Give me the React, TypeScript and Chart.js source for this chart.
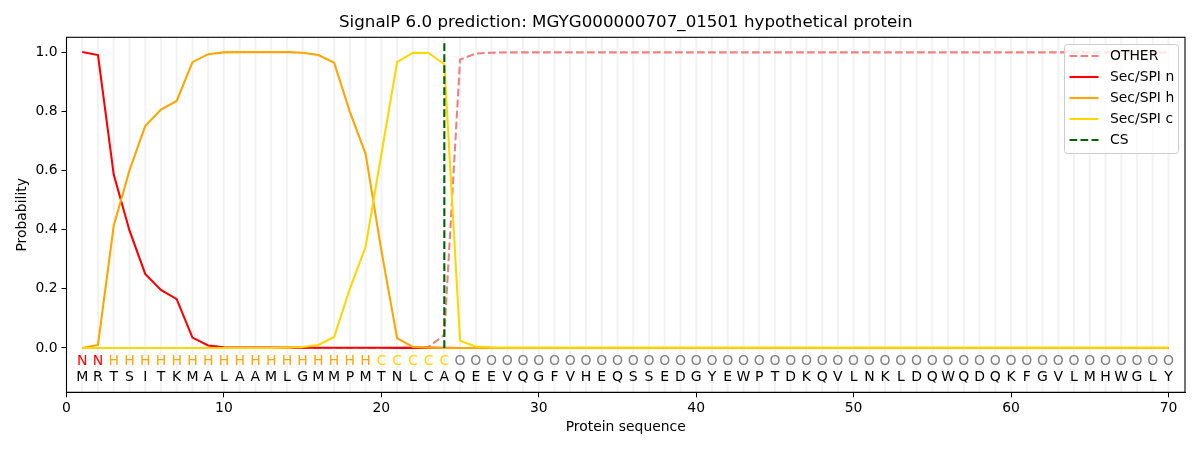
import React, { useEffect, useRef } from "react";
import { Chart, registerables } from "chart.js";

Chart.register(...registerables);

const sequence = "MRTSITKMALAAMLGMMPMTNLCAQEEVQGFVHEQSSEDGYEWPTDKQVLNKLDQWQDQKFGVLMHWGLY".split("");
const regionLabels = (
  "NN" +
  "HHHHHHHHHHHHHHHHH" +
  "CCCCC" +
  "OOOOOOOOOOOOOOOOOOOOOOOOOOOOOOOOOOOOOOOOOOOOOO"
).split("");

const otherProb = [
  0, 0, 0, 0, 0, 0, 0, 0, 0, 0,
  0, 0, 0, 0, 0, 0, 0, 0, 0, 0,
  0, 0.001, 0.004, 0.044, 0.975, 0.995, 0.998, 0.999, 0.999, 0.999,
  0.999, 0.999, 0.999, 0.999, 0.999, 0.999, 0.999, 0.999, 0.999, 0.999,
  0.999, 0.999, 0.999, 0.999, 0.999, 0.999, 0.999, 0.999, 0.999, 0.999,
  0.999, 0.999, 0.999, 0.999, 0.999, 0.999, 0.999, 0.999, 0.999, 0.999,
  0.999, 0.999, 0.999, 0.999, 0.999, 0.999, 0.999, 0.999, 0.999, 0.999,
];
const secSpiN = [
  1.0, 0.99, 0.586, 0.397, 0.25, 0.196, 0.165, 0.035, 0.008, 0.002,
  0.001, 0.001, 0.001, 0.001, 0.001, 0.0005, 0.0005, 0.0005, 0.0005, 0.0005,
  0.0003, 0.0003, 0.0002, 0.0001, 0, 0, 0, 0, 0, 0,
  0, 0, 0, 0, 0, 0, 0, 0, 0, 0,
  0, 0, 0, 0, 0, 0, 0, 0, 0, 0,
  0, 0, 0, 0, 0, 0, 0, 0, 0, 0,
  0, 0, 0, 0, 0, 0, 0, 0, 0, 0,
];
const secSpiH = [
  0, 0.01, 0.413, 0.6, 0.75, 0.806, 0.835, 0.966, 0.993, 0.999,
  1.0, 1.0, 1.0, 1.0, 0.998, 0.99, 0.964, 0.798, 0.656, 0.33,
  0.033, 0.003, 0.001, 0, 0, 0, 0, 0, 0, 0,
  0, 0, 0, 0, 0, 0, 0, 0, 0, 0,
  0, 0, 0, 0, 0, 0, 0, 0, 0, 0,
  0, 0, 0, 0, 0, 0, 0, 0, 0, 0,
  0, 0, 0, 0, 0, 0, 0, 0, 0, 0,
];
const secSpiC = [
  0, 0, 0, 0, 0, 0, 0, 0, 0, 0,
  0, 0, 0, 0.001, 0.003, 0.01, 0.037, 0.2, 0.342, 0.654,
  0.966, 0.998, 0.997, 0.959, 0.024, 0.005, 0.002, 0.001, 0.001, 0.001,
  0.001, 0.001, 0.001, 0.001, 0.001, 0.001, 0.001, 0.001, 0.001, 0.001,
  0.001, 0.001, 0.001, 0.001, 0.001, 0.001, 0.001, 0.001, 0.001, 0.001,
  0.001, 0.001, 0.001, 0.001, 0.001, 0.001, 0.001, 0.001, 0.001, 0.001,
  0.001, 0.001, 0.001, 0.001, 0.001, 0.001, 0.001, 0.001, 0.001, 0.001,
];
const csPosition = 24;
const csTop = 1.035;

const xTicks = [0, 10, 20, 30, 40, 50, 60, 70];
const yTicks = [0, 0.2, 0.4, 0.6, 0.8, 1.0];

const titleText = "SignalP 6.0 prediction: MGYG000000707_01501 hypothetical protein";
const xLabel = "Protein sequence";
const yLabel = "Probability";

const labelColors: Record<string, string> = {
  N: "#ff0000",
  H: "#ffa500",
  C: "#ffd700",
  O: "#808080",
};

const FONT = "'DejaVu Sans', sans-serif";

const legendItems = [
  { text: "OTHER", color: "#f08080", dash: [7.7, 3.3] },
  { text: "Sec/SPI n", color: "#ff0000", dash: [] as number[] },
  { text: "Sec/SPI h", color: "#ffa500", dash: [] as number[] },
  { text: "Sec/SPI c", color: "#ffd700", dash: [] as number[] },
  { text: "CS", color: "#006400", dash: [7.7, 3.3] },
];

const toPoints = (vals: number[]) => vals.map((v, i) => ({ x: i + 1, y: v }));

const overlayPlugin = {
  id: "overlay",
  beforeDatasetsDraw(chart: any) {
    const { ctx, chartArea: a, scales } = chart;
    const x = scales.x;
    ctx.save();
    ctx.strokeStyle = "rgba(128,128,128,0.1)";
    ctx.lineWidth = 2;
    sequence.forEach((_, i) => {
      const px = x.getPixelForValue(i + 1);
      ctx.beginPath();
      ctx.moveTo(px, a.top);
      ctx.lineTo(px, a.bottom);
      ctx.stroke();
    });
    ctx.restore();
  },
  afterDatasetsDraw(chart: any) {
    const { ctx, chartArea: a, scales } = chart;
    const x = scales.x;
    const y = scales.y;
    ctx.save();
    // sequence letters and region labels
    ctx.textAlign = "center";
    ctx.textBaseline = "middle";
    ctx.font = `14px ${FONT}`;
    sequence.forEach((aa, i) => {
      const px = x.getPixelForValue(i + 1);
      const lab = regionLabels[i];
      ctx.fillStyle = labelColors[lab];
      ctx.fillText(lab, px, y.getPixelForValue(-0.047));
      ctx.fillStyle = "#000000";
      ctx.fillText(aa, px, y.getPixelForValue(-0.1));
    });

    // frame
    ctx.strokeStyle = "#000000";
    ctx.lineWidth = 1.1;
    ctx.strokeRect(a.left, a.top, a.right - a.left, a.bottom - a.top);

    // legend
    const lx = 1064.5, ly = 44.5, lw = 114, lh = 109, r = 3;
    ctx.beginPath();
    ctx.moveTo(lx + r, ly);
    ctx.lineTo(lx + lw - r, ly);
    ctx.arcTo(lx + lw, ly, lx + lw, ly + r, r);
    ctx.lineTo(lx + lw, ly + lh - r);
    ctx.arcTo(lx + lw, ly + lh, lx + lw - r, ly + lh, r);
    ctx.lineTo(lx + r, ly + lh);
    ctx.arcTo(lx, ly + lh, lx, ly + lh - r, r);
    ctx.lineTo(lx, ly + r);
    ctx.arcTo(lx, ly, lx + r, ly, r);
    ctx.closePath();
    ctx.fillStyle = "rgba(255,255,255,0.8)";
    ctx.fill();
    ctx.strokeStyle = "#cccccc";
    ctx.lineWidth = 1;
    ctx.stroke();
    const rowsY = [56, 77, 98, 119, 140];
    ctx.textAlign = "left";
    ctx.font = `13.9px ${FONT}`;
    legendItems.forEach((it, i) => {
      ctx.beginPath();
      ctx.setLineDash(it.dash);
      ctx.strokeStyle = it.color;
      ctx.lineWidth = 2.1;
      ctx.moveTo(1069.5, rowsY[i]);
      ctx.lineTo(1098.5, rowsY[i]);
      ctx.stroke();
      ctx.setLineDash([]);
      ctx.fillStyle = "#000000";
      ctx.fillText(it.text, 1110, rowsY[i]);
    });

    // title
    ctx.textAlign = "center";
    ctx.fillStyle = "#000000";
    ctx.font = `16.7px ${FONT}`;
    ctx.fillText(titleText, (a.left + a.right) / 2, 23);

    // axis labels
    ctx.font = `13.9px ${FONT}`;
    ctx.fillText(xLabel, (a.left + a.right) / 2, 427);
    ctx.translate(22, (a.top + a.bottom) / 2);
    ctx.rotate(-Math.PI / 2);
    ctx.fillText(yLabel, 0, 0);
    ctx.restore();
  },
};

export default function App() {
  const canvasRef = useRef<HTMLCanvasElement | null>(null);

  useEffect(() => {
    const canvas = canvasRef.current;
    if (!canvas) return;
    const lineBase = {
      pointRadius: 0,
      borderWidth: 2.1,
      tension: 0,
      fill: false,
    };
    const chart = new Chart(canvas, {
      type: "line",
      data: {
        datasets: [
          { ...lineBase, label: "OTHER", data: toPoints(otherProb), borderColor: "#f08080", borderDash: [7.7, 3.3], order: 5 },
          { ...lineBase, label: "Sec/SPI n", data: toPoints(secSpiN), borderColor: "#ff0000", order: 4 },
          { ...lineBase, label: "Sec/SPI h", data: toPoints(secSpiH), borderColor: "#ffa500", order: 3 },
          { ...lineBase, label: "Sec/SPI c", data: toPoints(secSpiC), borderColor: "#ffd700", order: 2 },
          {
            ...lineBase,
            label: "CS",
            data: [
              { x: csPosition, y: 0 },
              { x: csPosition, y: csTop },
            ],
            borderColor: "#006400",
            borderDash: [7.7, 3.3],
            order: 1,
          },
        ],
      },
      options: {
        responsive: false,
        animation: false,
        devicePixelRatio: 1,
        layout: { padding: { top: 37.3, right: 15, left: 0, bottom: 0 } },
        plugins: {
          legend: { display: false },
          title: { display: false },
          tooltip: { enabled: false },
        },
        scales: {
          x: {
            type: "linear",
            min: 0,
            max: 71.05,
            afterBuildTicks: (s: any) => {
              s.ticks = xTicks.map((v) => ({ value: v }));
            },
            afterFit: (s: any) => {
              s.height = 57.7;
            },
            grid: { drawOnChartArea: false, drawTicks: true, tickLength: 5, color: "#000000" },
            border: { display: true, color: "#000000" },
            ticks: {
              color: "#000000",
              font: { family: FONT, size: 13.9 },
              padding: 3,
              maxRotation: 0,
              callback: (v: any) => String(v),
            },
          },
          y: {
            type: "linear",
            min: -0.15,
            max: 1.05,
            afterBuildTicks: (s: any) => {
              s.ticks = yTicks.map((v) => ({ value: v }));
            },
            afterFit: (s: any) => {
              s.width = 66.5;
            },
            grid: { drawOnChartArea: false, drawTicks: true, tickLength: 5, color: "#000000" },
            border: { display: true, color: "#000000" },
            ticks: {
              color: "#000000",
              font: { family: FONT, size: 13.9 },
              padding: 4,
              callback: (v: any) => Number(v).toFixed(1),
            },
          },
        },
      },
      plugins: [overlayPlugin],
    });
    return () => chart.destroy();
  }, []);

  return (
    <div style={{ position: "absolute", left: 0, top: 0, width: 1200, height: 450, background: "#ffffff" }}>
      <canvas ref={canvasRef} width={1200} height={450} />
    </div>
  );
}
